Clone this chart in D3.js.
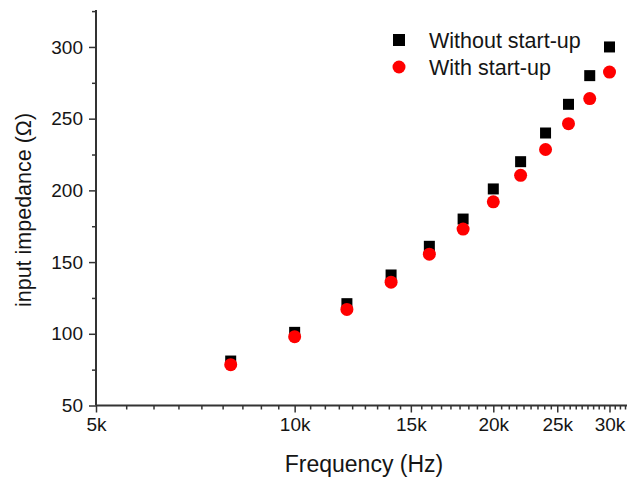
<!DOCTYPE html>
<html>
<head>
<meta charset="utf-8">
<script src="https://cdn.jsdelivr.net/npm/d3@7"></script>
<style>
  body { margin: 0; background: #fff; }
  text { font-family: "Liberation Sans", Arial, sans-serif; fill: #151515; }
</style>
</head>
<body>
<div id="chart"></div>
<script>
// data
var freqs = [8000, 10000, 12000, 14000, 16000, 18000, 20000, 22000, 24000, 26000, 28000, 30000];
var withoutStartup = [81, 101, 121, 141, 161, 180, 201, 220, 240, 260, 280, 300];
var withStartup = [78.5, 98, 117, 136, 155.5, 173, 192, 210.5, 228.5, 246.5, 264, 282.5];
var xTicks = [5000, 10000, 15000, 20000, 25000, 30000];
var yTicks = [50, 100, 150, 200, 250, 300];
var seriesNames = ["Without start-up", "With start-up"];

var W = 627, H = 478;
var svg = d3.select("#chart").append("svg").attr("width", W).attr("height", H);

var x = d3.scaleLog().domain([5000, 32000]).range([96, 628]);
var y = d3.scaleLinear().domain([50, 325]).range([405.5, 11.1]);

var axisColor = "#333";

// minor ticks: 8 per 5k interval
var xMinor = [];
for (var k = 5000; k < 32000; k += 5000) {
  for (var j = 1; j < 9; j++) {
    var v = k + j * 5000 / 9;
    if (v < 32000) xMinor.push(v);
  }
}
var yMinor = [75, 125, 175, 225, 275, 325];

// x axis
var gx = svg.append("g").attr("transform", "translate(0,405.5)");
gx.call(d3.axisBottom(x).tickValues(xTicks).tickSize(7).tickPadding(5)
  .tickFormat(function(d) { return (d / 1000) + "k"; }));
gx.append("g").call(d3.axisBottom(x).tickValues(xMinor).tickSize(4).tickFormat(""))
  .select(".domain").remove();
gx.selectAll(".domain").attr("stroke", axisColor).attr("stroke-width", 2).attr("d", "M96,0H628");
gx.selectAll(".tick line").attr("stroke", axisColor).attr("stroke-width", 1.5);
gx.selectAll(".tick text").attr("font-size", 19).attr("fill", "#151515")
  .attr("font-family", "Liberation Sans, Arial, sans-serif");

// y axis
var gy = svg.append("g").attr("transform", "translate(96,0)");
gy.call(d3.axisLeft(y).tickValues(yTicks).tickSize(7).tickPadding(6));
gy.append("g").call(d3.axisLeft(y).tickValues(yMinor).tickSize(4).tickFormat(""))
  .select(".domain").remove();
gy.selectAll(".domain").attr("stroke", axisColor).attr("stroke-width", 2).attr("d", "M0,405.5V10");
gy.selectAll(".tick line").attr("stroke", axisColor).attr("stroke-width", 1.5);
gy.selectAll(".tick text").attr("font-size", 19).attr("fill", "#151515")
  .attr("font-family", "Liberation Sans, Arial, sans-serif");

// axis titles
svg.append("text")
  .attr("x", 364).attr("y", 472)
  .attr("text-anchor", "middle")
  .attr("font-size", 23)
  .text("Frequency (Hz)");

svg.append("text")
  .attr("transform", "translate(31,210) rotate(-90)")
  .attr("text-anchor", "middle")
  .attr("font-size", 21.5)
  .text("input impedance (\u03A9)");

// points
var sq = 11;
svg.append("g").selectAll("rect")
  .data(freqs)
  .enter().append("rect")
    .attr("x", function(d) { return x(d) - sq / 2; })
    .attr("y", function(d, i) { return y(withoutStartup[i]) - sq / 2; })
    .attr("width", sq).attr("height", sq)
    .attr("fill", "#000");

svg.append("g").selectAll("circle")
  .data(freqs)
  .enter().append("circle")
    .attr("cx", function(d) { return x(d); })
    .attr("cy", function(d, i) { return y(withStartup[i]); })
    .attr("r", 6.5)
    .attr("fill", "#f00");

// legend
var legend = svg.append("g");
legend.append("rect").attr("x", 399 - 6).attr("y", 40 - 6).attr("width", 12).attr("height", 12).attr("fill", "#000");
legend.append("circle").attr("cx", 399).attr("cy", 67).attr("r", 6.5).attr("fill", "#f00");
legend.selectAll("text")
  .data(seriesNames)
  .enter().append("text")
    .attr("x", 429)
    .attr("y", function(d, i) { return 48 + i * 27; })
    .attr("font-size", 21.5)
    .text(function(d) { return d; });
</script>
</body>
</html>
